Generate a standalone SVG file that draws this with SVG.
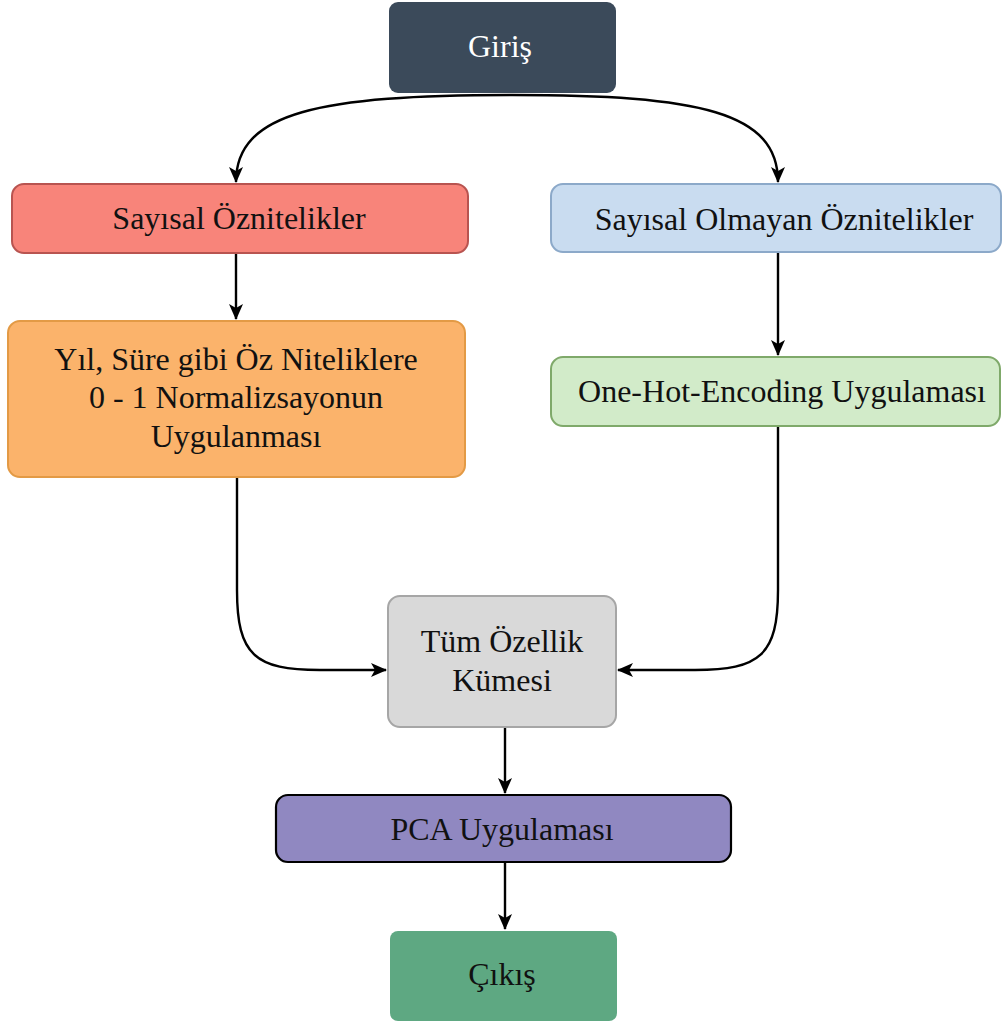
<svg xmlns="http://www.w3.org/2000/svg" width="1002" height="1023" viewBox="0 0 1002 1023">
<style>
text{font-family:"Liberation Serif","Times New Roman",serif;font-size:32px;fill:#111;text-anchor:middle}
.c{fill:none;stroke:#000;stroke-width:2.4}
</style>
<defs>
<marker id="ah" markerUnits="userSpaceOnUse" markerWidth="18" markerHeight="16" refX="15" refY="8" orient="auto">
<path d="M0,1 L16,8 L0,15 L4,8 Z" fill="#000"/>
</marker>
</defs>
<rect width="1002" height="1023" fill="#fff"/>
<g id="connectors">
<path class="c" d="M512,95 C320,95 236,112 236,182" marker-end="url(#ah)"/>
<path class="c" d="M512,95 C700,95 778,112 778,182" marker-end="url(#ah)"/>
<path class="c" d="M236,253 L236,319" marker-end="url(#ah)"/>
<path class="c" d="M778,252 L778,355" marker-end="url(#ah)"/>
<path class="c" d="M237,478 L237,590 C237,655 255,670 320,670 L386,670" marker-end="url(#ah)"/>
<path class="c" d="M778,426 L778,590 C778,655 760,670 695,670 L618,670" marker-end="url(#ah)"/>
<path class="c" d="M505,727 L505,793" marker-end="url(#ah)"/>
<path class="c" d="M505,862 L505,929" marker-end="url(#ah)"/>
</g>
<g id="giris">
<rect x="389" y="2" width="227" height="91" rx="9" fill="#3b4a5a"/>
<text x="500" y="57" style="fill:#fff">Giriş</text>
</g>
<g id="sayisal">
<rect x="12" y="184" width="456" height="69" rx="12" fill="#f8847a" stroke="#b85450" stroke-width="2"/>
<text x="239" y="229">Sayısal Öznitelikler</text>
</g>
<g id="olmayan">
<rect x="551" y="184" width="450" height="68" rx="12" fill="#c9dcf0" stroke="#8ca9c9" stroke-width="2"/>
<text x="784" y="230">Sayısal Olmayan Öznitelikler</text>
</g>
<g id="normalizasyon">
<rect x="8" y="321" width="457" height="156" rx="12" fill="#fbb36b" stroke="#e39a45" stroke-width="2"/>
<text x="236" y="370">Yıl, Süre gibi Öz Niteliklere</text>
<text x="236" y="408">0 - 1 Normalizsayonun</text>
<text x="236" y="447">Uygulanması</text>
</g>
<g id="onehot">
<rect x="551" y="357" width="449" height="69" rx="12" fill="#d2ebc9" stroke="#7fa96a" stroke-width="2"/>
<text x="782" y="402">One-Hot-Encoding Uygulaması</text>
</g>
<g id="tum">
<rect x="388" y="596" width="228" height="131" rx="12" fill="#d9d9d9" stroke="#a6a6a6" stroke-width="2"/>
<text x="502" y="652">Tüm Özellik</text>
<text x="502" y="691">Kümesi</text>
</g>
<g id="pca">
<rect x="276" y="795" width="455" height="67" rx="12" fill="#9088c1" stroke="#000" stroke-width="2.2"/>
<text x="502" y="840">PCA Uygulaması</text>
</g>
<g id="cikis">
<rect x="390" y="931" width="227" height="90" rx="8" fill="#5ea882"/>
<text x="502" y="985">Çıkış</text>
</g>
</svg>
